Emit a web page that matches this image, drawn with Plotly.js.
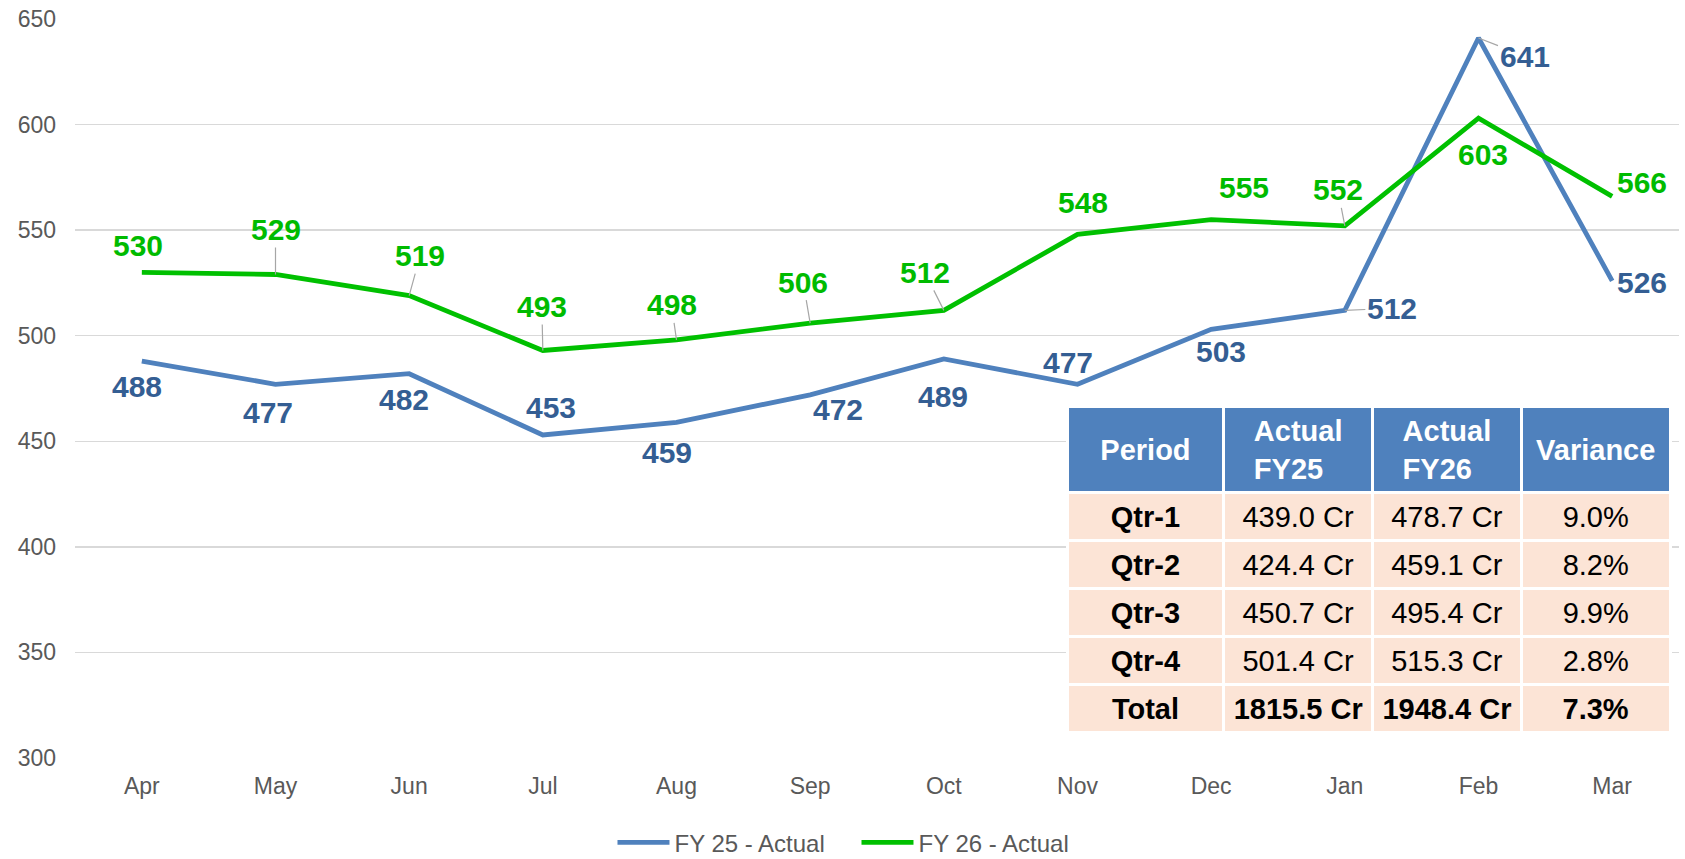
<!DOCTYPE html>
<html>
<head>
<meta charset="utf-8">
<script src="https://cdn.plot.ly/plotly-3.0.1.min.js"></script>
<style>html,body{margin:0;padding:0;background:#fff;}#chart{width:1685px;height:859px;}</style>
</head>
<body>
<div id="chart"></div>
<script>
// ---- data ----
const months = ['Apr','May','Jun','Jul','Aug','Sep','Oct','Nov','Dec','Jan','Feb','Mar'];
const fy25Actual = [488, 477, 482, 453, 459, 472, 489, 477, 503, 512, 641, 526];
const fy26Actual = [530, 529, 519, 493, 498, 506, 512, 548, 555, 552, 603, 566];
const seriesNames = ['FY 25 - Actual', 'FY 26 - Actual'];

const tableHeader = ['Period', 'Actual<br>FY25', 'Actual<br>FY26', 'Variance'];
const periods = ['Qtr-1', 'Qtr-2', 'Qtr-3', 'Qtr-4', 'Total'];
const fy25Quarter = [439.0, 424.4, 450.7, 501.4, 1815.5];
const fy26Quarter = [478.7, 459.1, 495.4, 515.3, 1948.4];
const variancePct = [9.0, 8.2, 9.9, 2.8, 7.3];

// ---- label placement (pixel offsets, styling only) ----
const fy25LabelOffsets = [[-5,25],[-8,28],[-5,26],[8,-27],[-10,30],[28,15],[-1,38],[-10,-22],[10,22],[47,-2],[46,18],[30,2]];
const fy26LabelOffsets = [[-4,-27],[0,-45],[11,-40],[-1,-44],[-5,-35],[-7,-41],[-19,-38],[5,-32],[33,-32],[-7,-36],[4,36],[30,-14]];
const fy25Leader = [0,0,0,0,0,0,0,0,0,1,1,0];
const fy26Leader = [0,1,1,1,1,1,1,0,0,1,0,0];

const FONT = 'Liberation Sans, Arial, Helvetica, sans-serif';
const c25Line = '#4F81BD', c25Text = '#345E93';
const c26Line = '#00C000', c26Text = '#00BB00';
const leaderColor = '#A6A6A6';
const NBSP = '\u00A0';

function makeLabels(vals, offs, leaders, color) {
  return vals.map((v, i) => ({
    x: months[i], y: v, xref: 'x', yref: 'y',
    text: String(v), showarrow: true,
    ax: offs[i][0], ay: offs[i][1],
    arrowhead: 0, arrowwidth: 1.2, standoff: 0,
    arrowcolor: leaders[i] ? leaderColor : 'rgba(0,0,0,0)',
    font: {family: FONT, size: 30, color: color, weight: 'bold'}
  }));
}

const fmtCr = v => v.toFixed(1) + NBSP + 'Cr';
const fmtPct = v => v.toFixed(1) + '%';
const lastIdx = periods.length - 1;
const cellTxt = (s, i) => i === lastIdx ? '<b>' + s + '</b>' : '<span>' + s + '</span>';

// single-line headers get a small spacer line so they sit mid-cell
const headerText = tableHeader.map(h => h.indexOf('<br>') < 0
  ? '<span style="font-size:8px">' + NBSP + '</span><br><b>' + h + '</b>'
  : '<b>' + h.split('<br>').join('</b><br><b>') + '</b>');

const traces = [
  {
    type: 'scatter', mode: 'lines', name: seriesNames[0],
    x: months, y: fy25Actual,
    line: {color: c25Line, width: 4.8}, hoverinfo: 'x+y'
  },
  {
    type: 'scatter', mode: 'lines', name: seriesNames[1],
    x: months, y: fy26Actual,
    line: {color: c26Line, width: 4.8}, hoverinfo: 'x+y'
  },
  {
    type: 'table',
    domain: {x: [0.6185, 0.995], y: [0.02, 0.475]},
    columnwidth: [157, 149, 149, 149],
    header: {
      values: headerText,
      align: 'center', height: 80,
      fill: {color: '#4F81BD'},
      line: {color: '#FFFFFF', width: 3},
      font: {family: FONT, size: 29, color: '#FFFFFF'}
    },
    cells: {
      values: [
        periods.map(p => '<b>' + p + '</b>'),
        fy25Quarter.map((v, i) => cellTxt(fmtCr(v), i)),
        fy26Quarter.map((v, i) => cellTxt(fmtCr(v), i)),
        variancePct.map((v, i) => cellTxt(fmtPct(v), i))
      ],
      align: 'center', height: 48,
      fill: {color: '#FCE4D6'},
      line: {color: '#FFFFFF', width: 3},
      font: {family: FONT, size: 29, color: '#000000'}
    }
  }
];

const layout = {
  width: 1685, height: 859,
  margin: {l: 75, r: 6, t: 19, b: 101},
  paper_bgcolor: '#FFFFFF', plot_bgcolor: '#FFFFFF',
  showlegend: true,
  legend: {
    orientation: 'h', xref: 'container', yref: 'container',
    x: 0.5083, xanchor: 'center', y: 0.019, yanchor: 'middle',
    font: {family: FONT, size: 24, color: '#595959'},
    itemwidth: 52, entrywidth: 177, entrywidthmode: 'pixels',
    tracegroupgap: 0, bgcolor: 'rgba(0,0,0,0)'
  },
  xaxis: {
    type: 'category', range: [-0.5, 11.5],
    showgrid: false, zeroline: false, showline: false,
    ticks: '', ticklabelstandoff: 12,
    tickfont: {family: FONT, size: 23, color: '#595959'}
  },
  yaxis: {
    range: [300, 650], dtick: 50, tick0: 300,
    showgrid: true, gridcolor: '#D9D9D9', gridwidth: 1.5,
    zeroline: false, showline: false, ticks: '', ticklabelstandoff: 18,
    tickfont: {family: FONT, size: 23, color: '#595959'}
  },
  annotations: [].concat(
    makeLabels(fy25Actual, fy25LabelOffsets, fy25Leader, c25Text),
    makeLabels(fy26Actual, fy26LabelOffsets, fy26Leader, c26Text)
  )
};

Plotly.newPlot('chart', traces, layout, {displayModeBar: false, staticPlot: true});
</script>
</body>
</html>
